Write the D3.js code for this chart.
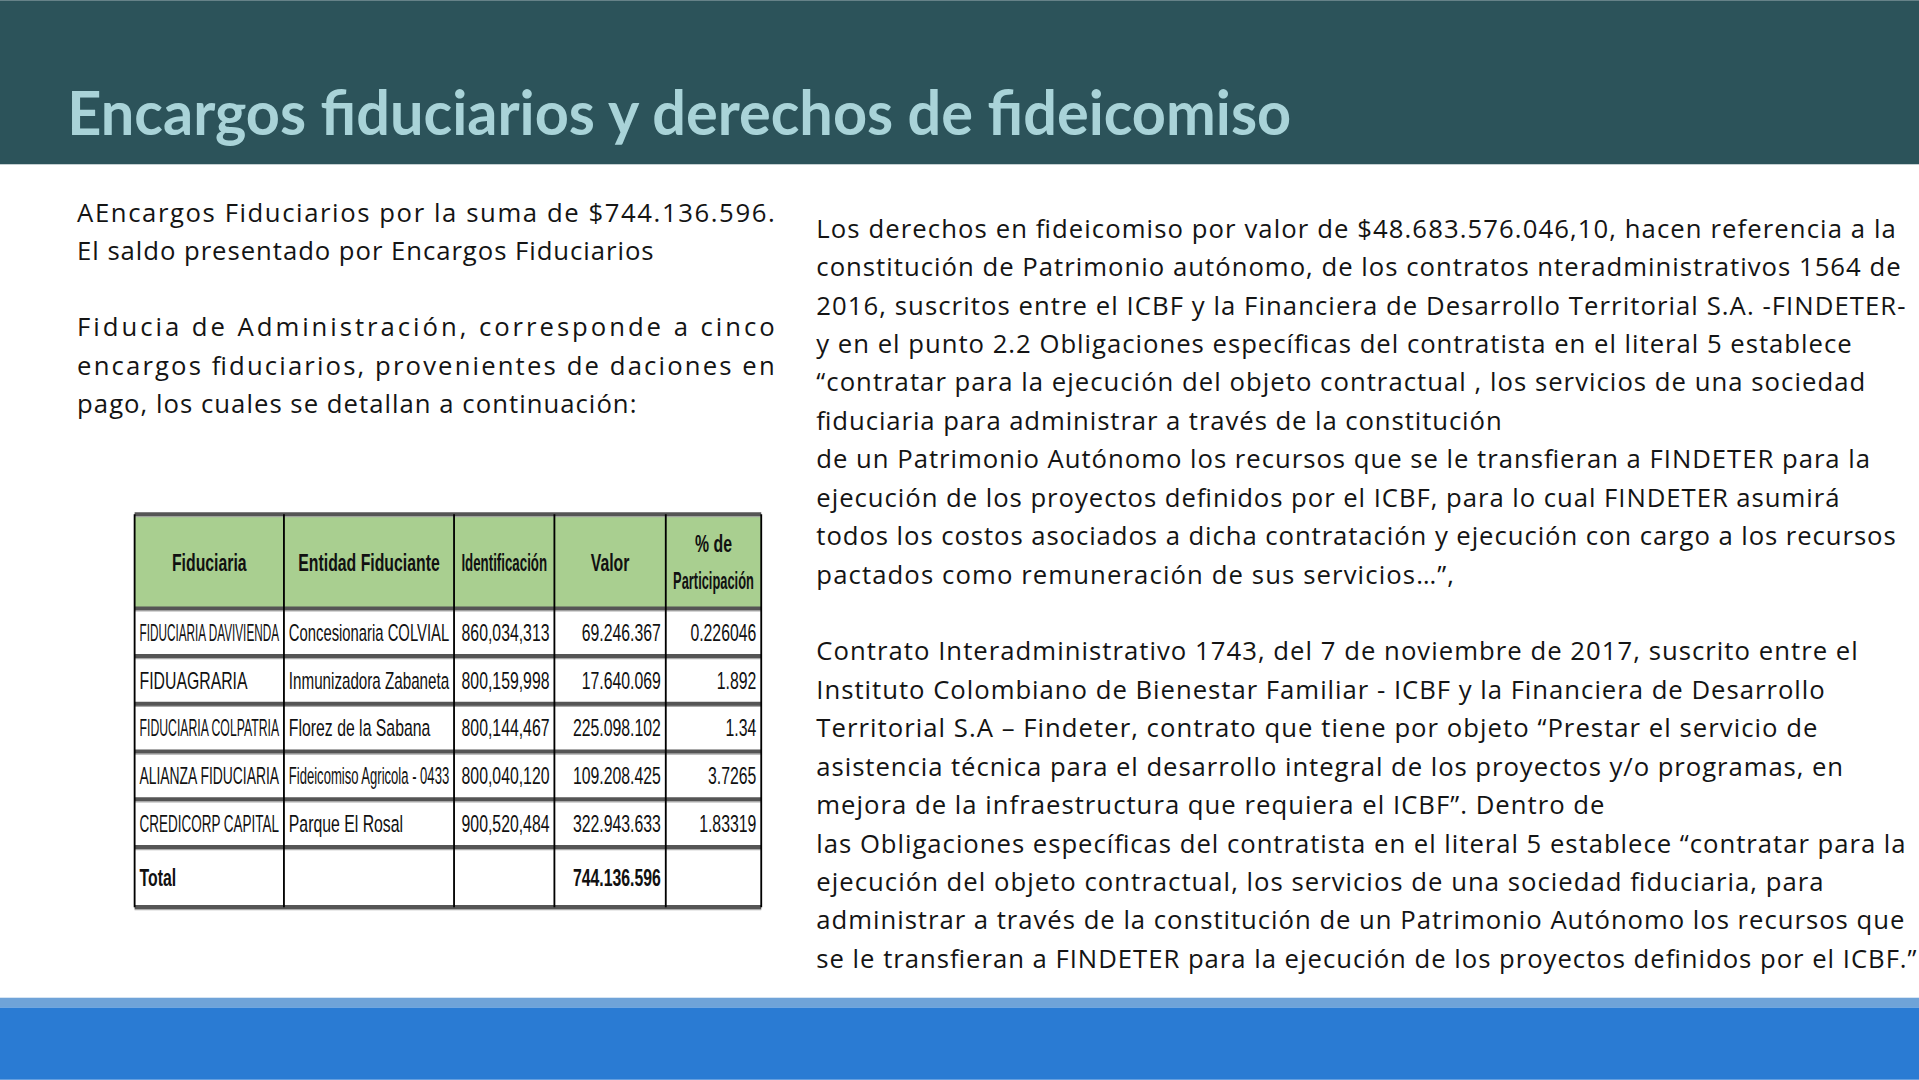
<!DOCTYPE html>
<html lang="es">
<head>
<meta charset="UTF-8">
<title>Encargos fiduciarios y derechos de fideicomiso</title>
<script src="https://d3js.org/d3.v7.min.js"></script>
<style>
	body, html { margin: 0; padding: 0; width: 100%; height: 100%; overflow: hidden; background: #fff; }
	svg { display: block; }
	.body-text { font-family: "Open Sans", sans-serif; font-size: 21px; fill: #141414; }
	.cell { font-family: "Liberation Sans", sans-serif; font-size: 19px; fill: #111; }
</style>
</head>
<body>
<div id="slide"></div>
<script>
// table data
const columns = ["Fiduciaria", "Entidad Fiduciante", "Identificación", "Valor", "% de|Participación"];
const fiduciaria = ["FIDUCIARIA DAVIVIENDA", "FIDUAGRARIA", "FIDUCIARIA COLPATRIA", "ALIANZA FIDUCIARIA", "CREDICORP CAPITAL"];
const entidad = ["Concesionaria COLVIAL", "Inmunizadora Zabaneta", "Florez de la Sabana", "Fideicomiso Agricola - 0433", "Parque El Rosal"];
const identificacion = ["860,034,313", "800,159,998", "800,144,467", "800,040,120", "900,520,484"];
const valor = ["69.246.367", "17.640.069", "225.098.102", "109.208.425", "322.943.633"];
const participacion = ["0.226046", "1.892", "1.34", "3.7265", "1.83319"];
const total = "744.136.596";

const title = "Encargos fiduciarios y derechos de fideicomiso";
const leftLines = [
	["AEncargos Fiduciarios por la suma de $744.136.596.", 633],
	["El saldo presentado por Encargos Fiduciarios", 534],
	null,
	["Fiducia de Administración, corresponde a cinco", 633],
	["encargos fiduciarios, provenientes de daciones en", 633],
	["pago, los cuales se detallan a continuación:", 520]
];
const rightLines = [
	["Los derechos en fideicomiso por valor de $48.683.576.046,10, hacen referencia a la", 1549],
	["constitución de Patrimonio autónomo, de los contratos nteradministrativos 1564 de", 1553],
	["2016, suscritos entre el  ICBF y la Financiera de Desarrollo Territorial S.A. -FINDETER-", 1557],
	["y en el punto 2.2 Obligaciones específicas del contratista en el literal 5 establece", 1513],
	["“contratar para la ejecución del objeto contractual , los servicios de una sociedad", 1524],
	["fiduciaria para administrar a través de la constitución", 1227],
	["de un Patrimonio Autónomo los recursos que se le transfieran a FINDETER para la", 1528],
	["ejecución de los proyectos definidos por el ICBF, para lo cual FINDETER asumirá", 1503],
	["todos los costos asociados a dicha contratación y ejecución con cargo a los recursos", 1549],
	["pactados como remuneración de sus servicios…”,", 1188],
	null,
	["Contrato Interadministrativo 1743, del 7 de noviembre de 2017, suscrito entre el", 1518],
	["Instituto Colombiano de Bienestar Familiar - ICBF y la Financiera de Desarrollo", 1491],
	["Territorial S.A – Findeter, contrato que tiene por objeto “Prestar el servicio de", 1485],
	["asistencia técnica para el desarrollo integral de los proyectos y/o programas, en", 1506],
	["mejora de la infraestructura que requiera el ICBF”. Dentro de", 1311],
	["las Obligaciones específicas del contratista en el literal 5 establece “contratar para la", 1557],
	["ejecución del objeto contractual, los servicios de una sociedad fiduciaria, para", 1490],
	["administrar a través de la constitución de un Patrimonio Autónomo los recursos que", 1556],
	["se le transfieran a FINDETER para la ejecución de los proyectos definidos por el ICBF.”", 1566]
];

const W = 1568, H = 882;
const svg = d3.select("#slide").append("svg")
	.attr("width", 1919).attr("height", 1080)
	.attr("viewBox", [0, 0, W, H]);

// header band and footer
svg.append("rect").attr("width", W).attr("height", 134).attr("fill", "#2c535a");
svg.append("text").attr("x", 55).attr("y", 110)
	.attr("font-family", "Lato, sans-serif").attr("font-weight", 700).attr("font-size", 50)
	.attr("fill", "#a9d3d8").attr("textLength", 1000).attr("lengthAdjust", "spacingAndGlyphs")
	.text(title);
svg.append("rect").attr("y", 815).attr("width", W).attr("height", 8).attr("fill", "#6fa3d8");
svg.append("rect").attr("y", 823).attr("width", W).attr("height", H - 823).attr("fill", "#2a7bd3");

// paragraphs
function paragraph(lines, x, y0, step) {
	lines.forEach((l, i) => {
		if (!l) return;
		svg.append("text").attr("class", "body-text")
			.attr("x", x).attr("y", y0 + i * step)
			.attr("textLength", l[1] - x).attr("lengthAdjust", "spacing")
			.text(l[0]);
	});
}
paragraph(leftLines, 63, 181, 31.2);
paragraph(rightLines, 667, 194, 31.4);

// table
const rows = fiduciaria.map((f, i) => [f, entidad[i], identificacion[i], valor[i], participacion[i]]);
rows.push(["Total", "", "", total, ""]);
const colEdges = [110, 232, 371, 453, 544, 622];
const x = d3.scaleOrdinal().domain(d3.range(5)).range(colEdges.slice(0, 5));
const y = d3.scaleBand().domain(d3.range(fiduciaria.length)).range([497, 692]);
const headerTop = 420, bottom = 741;
const rowY = i => i < 5 ? y(i) : 692;
const rowH = i => i < 5 ? y.bandwidth() : bottom - 692;

const table = svg.append("g");
table.append("rect").attr("x", 110).attr("y", headerTop).attr("width", 512).attr("height", 497 - headerTop).attr("fill", "#a9cf90");

function cellText(txt, cx, cy, anchor, bold, maxW) {
	const t = table.append("text").attr("class", "cell")
		.attr("x", cx).attr("y", cy).attr("text-anchor", anchor)
		.attr("font-weight", bold ? 700 : 400).text(txt);
	const len = t.node().getComputedTextLength() || txt.length * 10;
	t.attr("textLength", Math.min(len * 0.68, maxW)).attr("lengthAdjust", "spacingAndGlyphs");
}

columns.forEach((c, j) => {
	const cx = (colEdges[j] + colEdges[j + 1]) / 2;
	const parts = c.split("|");
	parts.forEach((p, k) => cellText(p, cx, 466 + (k - (parts.length - 1) / 2) * 30, "middle", true,
		colEdges[j + 1] - colEdges[j] - 12));
});

rows.forEach((r, i) => {
	r.forEach((v, j) => {
		if (!v) return;
		const right = j >= 2;
		const cx = right ? colEdges[j + 1] - 4 : x(j) + 4;
		cellText(v, cx, rowY(i) + rowH(i) / 2 + 7, right ? "end" : "start", i === 5,
			colEdges[j + 1] - colEdges[j] - 8);
	});
});

// horizontal rules (thick gray)
[headerTop].concat(d3.range(rows.length).map(rowY)).concat([bottom]).forEach(yy => {
	table.append("line").attr("x1", 110).attr("x2", 622).attr("y1", yy).attr("y2", yy)
		.attr("stroke", "#555").attr("stroke-width", 3.5);
	table.append("line").attr("x1", 110).attr("x2", 622).attr("y1", yy + 2).attr("y2", yy + 2)
		.attr("stroke", "#aaa").attr("stroke-width", 1);
});
// vertical rules
colEdges.forEach(xx => {
	table.append("line").attr("x1", xx).attr("x2", xx).attr("y1", headerTop).attr("y2", bottom)
		.attr("stroke", "#000").attr("stroke-width", 1.5);
});
</script>
</body>
</html>
